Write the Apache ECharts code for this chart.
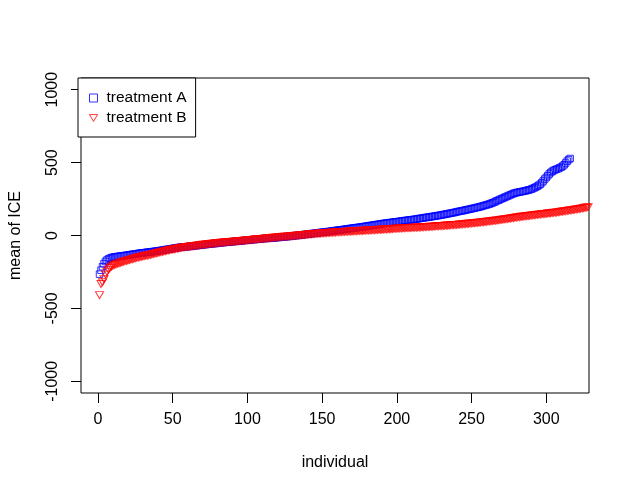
<!DOCTYPE html>
<html>
<head>
<meta charset="utf-8">
<script src="https://cdn.jsdelivr.net/npm/echarts@6/dist/echarts.min.js"></script>
<style>
html,body{margin:0;padding:0;background:#fff;}
#chart{width:628px;height:491px;}
</style>
</head>
<body>
<div id="chart"></div>
<script>
// sorted mean ICE per individual, treatment A (316 individuals)
const treatmentA = [
-265,-238,-214,-193,-178,-168,-161,-156,-152,-149,
-147,-146,-144,-143,-141,-140,-139,-137,-136,-134,
-132,-131,-129,-128,-126,-125,-123,-121,-120,-119,
-118,-116,-115,-114,-112,-111,-110,-108,-107,-105,
-104,-102,-101,-99,-97,-96,-94,-93,-91,-89,
-87,-85,-84,-82,-81,-80,-79,-78,-77,-76,
-75,-74,-72,-71,-70,-69,-68,-67,-65,-64,
-63,-62,-60,-59,-58,-57,-56,-55,-54,-52,
-51,-50,-49,-48,-47,-46,-45,-44,-43,-42,
-41,-40,-39,-38,-37,-36,-35,-34,-33,-32,
-31,-30,-29,-28,-27,-26,-25,-24,-23,-22,
-21,-20,-20,-19,-18,-17,-16,-16,-15,-14,
-13,-12,-11,-10,-9,-8,-7,-6,-4,-3,
-2,-1,0,1,2,4,5,6,8,9,
10,12,13,14,15,17,18,19,21,22,
23,24,25,27,28,30,31,33,34,35,
37,38,39,41,42,44,45,47,48,50,
51,53,54,55,57,58,60,61,63,64,
66,68,69,71,72,74,76,77,79,81,
82,84,85,86,88,89,90,92,93,94,
96,97,99,100,102,103,104,106,107,108,
110,111,113,115,116,118,119,121,123,124,
126,127,129,131,132,134,136,137,139,141,
143,145,147,149,151,153,155,157,159,162,
164,166,168,170,172,175,177,179,181,184,
186,188,191,193,195,198,201,204,207,210,
213,216,220,224,228,233,238,242,247,252,
256,261,265,270,274,279,283,288,291,294,
296,298,300,302,304,306,309,312,314,318,
322,327,332,338,344,352,362,374,387,398,
410,422,432,440,446,451,455,459,464,469,
476,485,497,510,520,528
];
// sorted mean ICE per individual, treatment B
const treatmentB = [
-409,-332,-321,-300,-268,-248,-235,-223,-214,-207,
-202,-198,-194,-191,-187,-184,-180,-177,-174,-171,
-168,-165,-162,-159,-156,-152,-150,-148,-146,-144,
-141,-139,-137,-135,-133,-130,-127,-125,-122,-120,
-117,-115,-112,-110,-107,-105,-102,-100,-98,-96,
-94,-92,-90,-88,-86,-84,-82,-80,-79,-78,
-77,-76,-74,-73,-71,-70,-68,-67,-65,-64,
-63,-62,-61,-59,-58,-57,-56,-55,-53,-52,
-51,-50,-49,-48,-47,-46,-45,-45,-44,-43,
-42,-41,-40,-39,-38,-37,-36,-35,-34,-33,
-32,-31,-30,-29,-28,-27,-26,-25,-24,-23,
-22,-21,-20,-19,-18,-17,-16,-15,-14,-13,
-12,-11,-10,-9,-9,-8,-7,-6,-5,-4,
-3,-2,-1,0,1,2,3,4,5,6,
7,8,9,10,11,12,12,13,14,15,
16,16,17,18,19,19,20,21,21,22,
23,23,24,24,25,26,26,27,27,28,
29,29,30,31,31,32,32,33,34,34,
35,35,36,37,37,38,38,39,40,40,
41,42,42,43,44,44,45,46,46,47,
48,48,49,50,50,51,51,52,52,53,
53,54,54,55,55,56,57,57,58,58,
59,60,60,61,62,63,63,64,65,65,
66,67,68,68,69,70,71,72,72,73,
74,75,76,77,78,79,80,81,82,83,
84,85,86,87,88,90,91,92,93,94,
96,97,98,99,101,102,103,105,106,108,
109,111,112,114,115,117,118,120,122,123,
125,126,128,129,130,132,133,134,136,137,
138,139,141,142,143,145,146,147,148,149,
151,152,153,154,156,157,158,160,161,163,
164,166,167,169,171,172,174,175,177,179,
180,182,184,186,188,190,192,194,197,200
];
const seriesNames = ['treatment A', 'treatment B'];
const xTicks = [0, 50, 100, 150, 200, 250, 300];
const yTicks = [-1000, -500, 0, 500, 1000];
const xTitle = 'individual';
const yTitle = 'mean of ICE';

const toPoints = arr => arr.map((v, i) => [i + 1, v]);
const FONT = 'Liberation Sans, Arial, sans-serif';

const chart = echarts.init(document.getElementById('chart'), null, {renderer: 'canvas'});
chart.setOption({
  animation: false,
  backgroundColor: '#ffffff',
  textStyle: {fontFamily: FONT},
  grid: {left: 78, right: 39, top: 78, bottom: 98, show: true,
         borderColor: '#000', borderWidth: 1, backgroundColor: 'transparent'},
  xAxis: {
    type: 'value', min: -11.4, max: 328.6,
    name: xTitle, nameLocation: 'middle', nameGap: 62,
    nameTextStyle: {fontSize: 16, color: '#000', fontFamily: FONT, lineHeight: 16},
    axisLine: {show: false, onZero: false},
    splitLine: {show: false},
    axisTick: {show: true, inside: false, length: 10, lineStyle: {color: '#000', width: 1}, customValues: xTicks},
    axisLabel: {show: true, fontSize: 16, color: '#000', margin: 19, fontFamily: FONT, lineHeight: 16,
                customValues: xTicks, formatter: v => String(v)}
  },
  yAxis: {
    type: 'value', min: -1080, max: 1080,
    name: yTitle, nameLocation: 'middle', nameGap: 57, nameRotate: 90,
    nameTextStyle: {fontSize: 16, color: '#000', fontFamily: FONT, lineHeight: 16},
    axisLine: {show: false, onZero: false},
    splitLine: {show: false},
    axisTick: {show: true, inside: false, length: 10, lineStyle: {color: '#000', width: 1}, customValues: yTicks},
    axisLabel: {show: true, fontSize: 16, color: '#000', margin: 20, rotate: 90, fontFamily: FONT, lineHeight: 16,
                customValues: yTicks, formatter: v => String(v)}
  },
  legend: {
    orient: 'vertical', left: 78, top: 78,
    backgroundColor: '#fff', borderColor: '#000', borderWidth: 1, borderRadius: 0,
    padding: [12, 9, 11, 11],
    itemGap: 4, itemWidth: 8, itemHeight: 8,
    textStyle: {fontSize: 15.5, color: '#000', fontFamily: FONT, lineHeight: 16, padding: [0, 0, 0, 4]},
    data: [
      {name: seriesNames[0], icon: 'rect',
       itemStyle: {color: 'transparent', borderColor: '#0000ff', borderWidth: 1}},
      {name: seriesNames[1], icon: 'path://M0,0 L10,0 L5,8.5 Z',
       itemStyle: {color: 'transparent', borderColor: '#ff0000', borderWidth: 1}}
    ]
  },
  series: [
    {
      name: seriesNames[0], type: 'scatter', data: toPoints(treatmentA),
      symbol: 'rect', symbolSize: 6.5, clip: true, silent: true,
      itemStyle: {color: 'transparent', borderColor: '#0000ff', borderWidth: 1}
    },
    {
      name: seriesNames[1], type: 'scatter', data: toPoints(treatmentB),
      symbol: 'triangle', symbolRotate: 180, symbolSize: [8, 7], clip: true, silent: true,
      itemStyle: {color: 'transparent', borderColor: '#ff0000', borderWidth: 1}
    }
  ]
});
</script>
</body>
</html>
